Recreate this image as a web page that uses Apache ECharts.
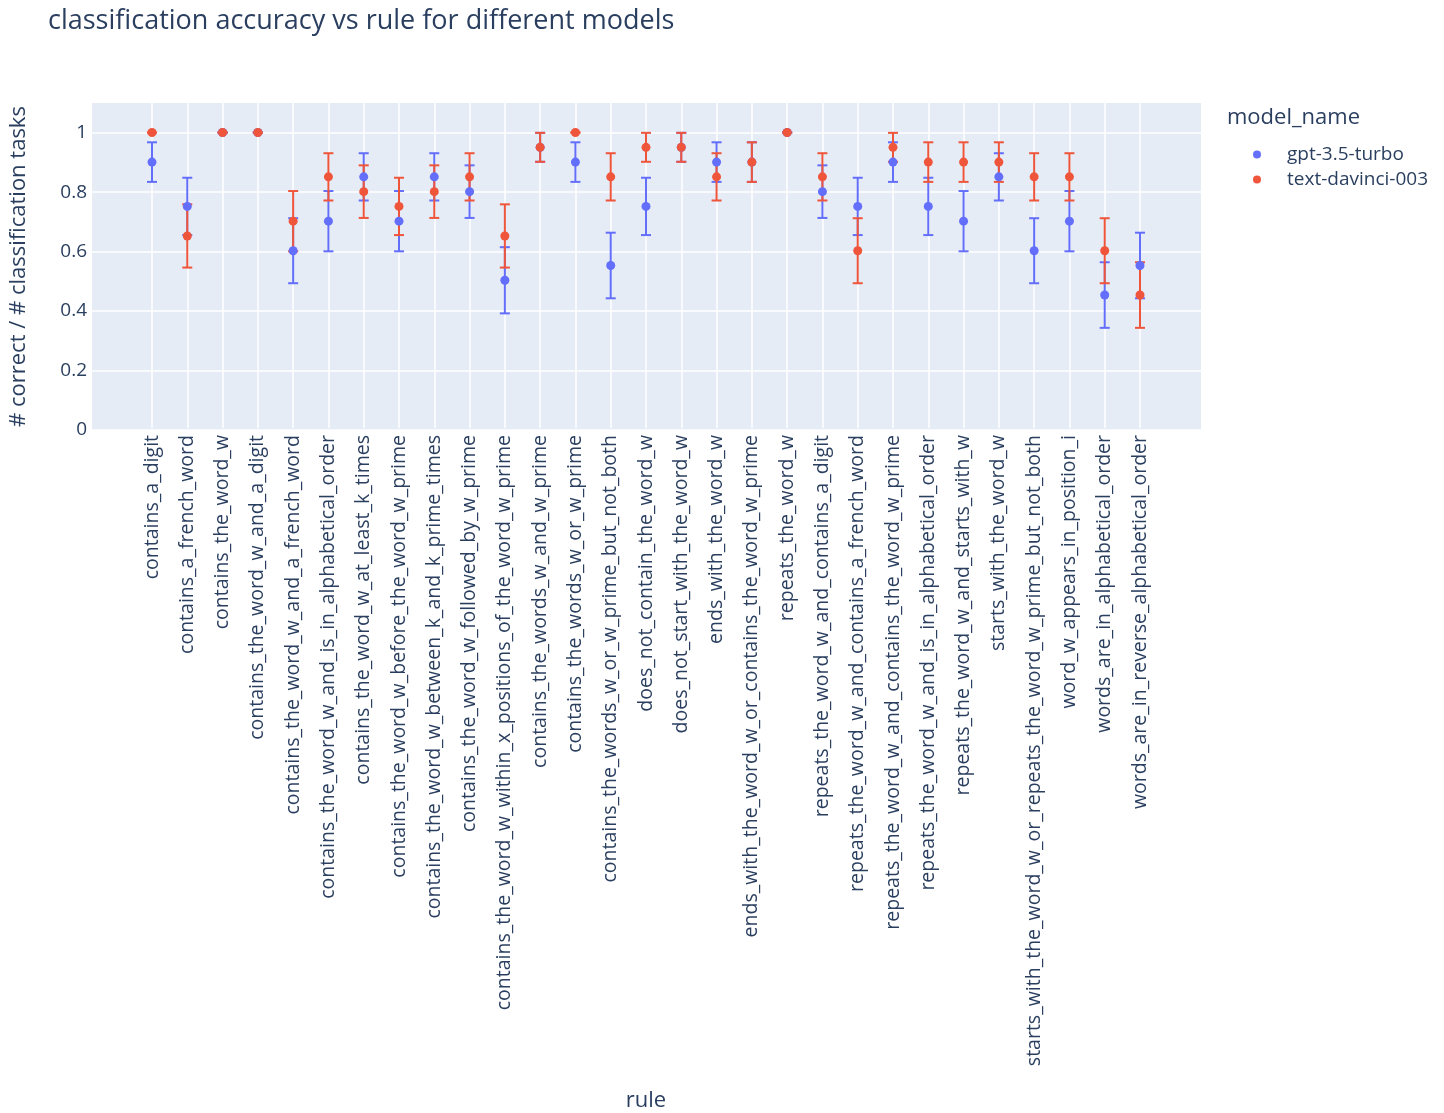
<!DOCTYPE html>
<html>
<head>
<meta charset="utf-8">
<title>classification accuracy vs rule for different models</title>
<script src="https://cdn.jsdelivr.net/npm/echarts@6/dist/echarts.min.js"></script>
<style>
  html, body { margin: 0; padding: 0; background: #ffffff; }
  #chart { width: 1444px; height: 1113px; }
</style>
</head>
<body>
<div id="chart"></div>
<script>
// Rules evaluated (x categories)
const rules = [
  'contains_a_digit',
  'contains_a_french_word',
  'contains_the_word_w',
  'contains_the_word_w_and_a_digit',
  'contains_the_word_w_and_a_french_word',
  'contains_the_word_w_and_is_in_alphabetical_order',
  'contains_the_word_w_at_least_k_times',
  'contains_the_word_w_before_the_word_w_prime',
  'contains_the_word_w_between_k_and_k_prime_times',
  'contains_the_word_w_followed_by_w_prime',
  'contains_the_word_w_within_x_positions_of_the_word_w_prime',
  'contains_the_words_w_and_w_prime',
  'contains_the_words_w_or_w_prime',
  'contains_the_words_w_or_w_prime_but_not_both',
  'does_not_contain_the_word_w',
  'does_not_start_with_the_word_w',
  'ends_with_the_word_w',
  'ends_with_the_word_w_or_contains_the_word_w_prime',
  'repeats_the_word_w',
  'repeats_the_word_w_and_contains_a_digit',
  'repeats_the_word_w_and_contains_a_french_word',
  'repeats_the_word_w_and_contains_the_word_w_prime',
  'repeats_the_word_w_and_is_in_alphabetical_order',
  'repeats_the_word_w_and_starts_with_w',
  'starts_with_the_word_w',
  'starts_with_the_word_w_or_repeats_the_word_w_prime_but_not_both',
  'word_w_appears_in_position_i',
  'words_are_in_alphabetical_order',
  'words_are_in_reverse_alphabetical_order'
];

// gpt-3.5-turbo: accuracy and error-bar half length
const gptAcc = [0.90, 0.75, 1.00, 1.00, 0.60, 0.70, 0.85, 0.70, 0.85, 0.80,
                0.50, 0.95, 0.90, 0.55, 0.75, 0.95, 0.90, 0.90, 1.00, 0.80,
                0.75, 0.90, 0.75, 0.70, 0.85, 0.60, 0.70, 0.45, 0.55];
const gptErr = [0.067, 0.097, 0, 0, 0.110, 0.102, 0.080, 0.102, 0.080, 0.089,
                0.112, 0.049, 0.067, 0.111, 0.097, 0.049, 0.067, 0.067, 0, 0.089,
                0.097, 0.067, 0.097, 0.102, 0.080, 0.110, 0.102, 0.111, 0.111];

// text-davinci-003: accuracy and error-bar half length
const davinciAcc = [1.00, 0.65, 1.00, 1.00, 0.70, 0.85, 0.80, 0.75, 0.80, 0.85,
                    0.65, 0.95, 1.00, 0.85, 0.95, 0.95, 0.85, 0.90, 1.00, 0.85,
                    0.60, 0.95, 0.90, 0.90, 0.90, 0.85, 0.85, 0.60, 0.45];
const davinciErr = [0, 0.107, 0, 0, 0.102, 0.080, 0.089, 0.097, 0.089, 0.080,
                    0.107, 0.049, 0, 0.080, 0.049, 0.049, 0.080, 0.067, 0, 0.080,
                    0.110, 0.049, 0.067, 0.067, 0.067, 0.080, 0.080, 0.110, 0.111];

const yTicks = [0, 0.2, 0.4, 0.6, 0.8, 1];

const models = [
  { name: 'gpt-3.5-turbo', color: '#636EFA', acc: gptAcc, err: gptErr },
  { name: 'text-davinci-003', color: '#EF553B', acc: davinciAcc, err: davinciErr }
];

const FONT = '"Open Sans", "Noto Sans", sans-serif';
const TEXT = '#2a3f5f';

function errorBarRenderer(color) {
  return function (params, api) {
    const x = api.value(0);
    const v = api.value(1);
    const e = api.value(2);
    const hi = api.coord([x, v + e]);
    const lo = api.coord([x, v - e]);
    const hw = 5;
    const style = { stroke: color, lineWidth: 2, fill: null };
    return {
      type: 'group',
      children: [
        { type: 'line', shape: { x1: hi[0], y1: hi[1], x2: lo[0], y2: lo[1] }, style: style },
        { type: 'line', shape: { x1: hi[0] - hw, y1: hi[1], x2: hi[0] + hw, y2: hi[1] }, style: style },
        { type: 'line', shape: { x1: lo[0] - hw, y1: lo[1], x2: lo[0] + hw, y2: lo[1] }, style: style }
      ]
    };
  };
}

const series = [];
models.forEach(function (m) {
  series.push({
    name: m.name,
    type: 'custom',
    xAxisIndex: 1,
    yAxisIndex: 1,
    itemStyle: { color: m.color },
    renderItem: errorBarRenderer(m.color),
    encode: { x: 0, y: 1 },
    data: rules.map(function (r, i) { return [i, m.acc[i], m.err[i]]; }),
    silent: true
  });
  series.push({
    name: m.name,
    type: 'scatter',
    xAxisIndex: 1,
    yAxisIndex: 1,
    symbol: 'circle',
    symbolSize: 9,
    itemStyle: { color: m.color, opacity: 1 },
    data: rules.map(function (r, i) { return [i, m.acc[i]]; })
  });
});

const chart = echarts.init(document.getElementById('chart'), null, { renderer: 'canvas' });
chart.setOption({
  backgroundColor: '#ffffff',
  animation: false,
  textStyle: { fontFamily: FONT },
  title: {
    text: 'classification accuracy vs rule for different models',
    left: 43,
    top: 3,
    textStyle: { fontFamily: FONT, fontSize: 27, fontWeight: 'normal', color: TEXT }
  },
  legend: {
    orient: 'vertical',
    left: 1248,
    top: 140,
    itemWidth: 8,
    itemHeight: 8,
    itemGap: 6,
    data: models.map(function (m) { return { name: m.name, icon: 'circle' }; }),
    textStyle: { fontFamily: FONT, fontSize: 19, color: TEXT, padding: [0, 0, 0, 21] }
  },
  graphic: [{
    type: 'text',
    left: 1227,
    top: 107,
    style: { text: 'model_name', fontFamily: FONT, fontSize: 22, fill: TEXT }
  }],
  grid: [
    { left: 92, right: 243, top: 103, bottom: 683, show: true, backgroundColor: '#E5ECF6', borderWidth: 0 },
    { left: 152, right: 304, top: 103, bottom: 683 }
  ],
  xAxis: [
    { gridIndex: 0, type: 'value', min: 0, max: 1, show: false },
    {
      gridIndex: 1,
      type: 'category',
      data: rules,
      boundaryGap: false,
      axisLine: { show: false },
      axisTick: { show: false },
      axisLabel: { rotate: 90, interval: 0, margin: 7, fontFamily: FONT, fontSize: 19.5, color: TEXT },
      splitLine: { show: true, lineStyle: { color: '#ffffff', width: 1.5 } },
      name: 'rule',
      nameLocation: 'middle',
      nameGap: 662,
      nameTextStyle: { fontFamily: FONT, fontSize: 22, color: TEXT }
    }
  ],
  yAxis: [
    {
      gridIndex: 0,
      type: 'value',
      min: 0,
      max: 1.1,
      interval: 0.2,
      axisLine: { show: false },
      axisTick: { show: false },
      axisLabel: {
        margin: 5, fontFamily: FONT, fontSize: 19, color: TEXT, showMaxLabel: false,
        formatter: function (v) {
          const t = yTicks.find(function (k) { return Math.abs(k - v) < 1e-9; });
          return t === undefined ? '' : String(t);
        }
      },
      splitLine: { show: true, showMaxLine: false, lineStyle: { color: '#ffffff', width: 1.5 } },
      name: '# correct / # classification tasks',
      nameLocation: 'middle',
      nameGap: 62,
      nameTextStyle: { fontFamily: FONT, fontSize: 22, color: TEXT }
    },
    { gridIndex: 1, type: 'value', min: 0, max: 1.1, show: false }
  ],
  series: series
});
</script>
</body>
</html>
